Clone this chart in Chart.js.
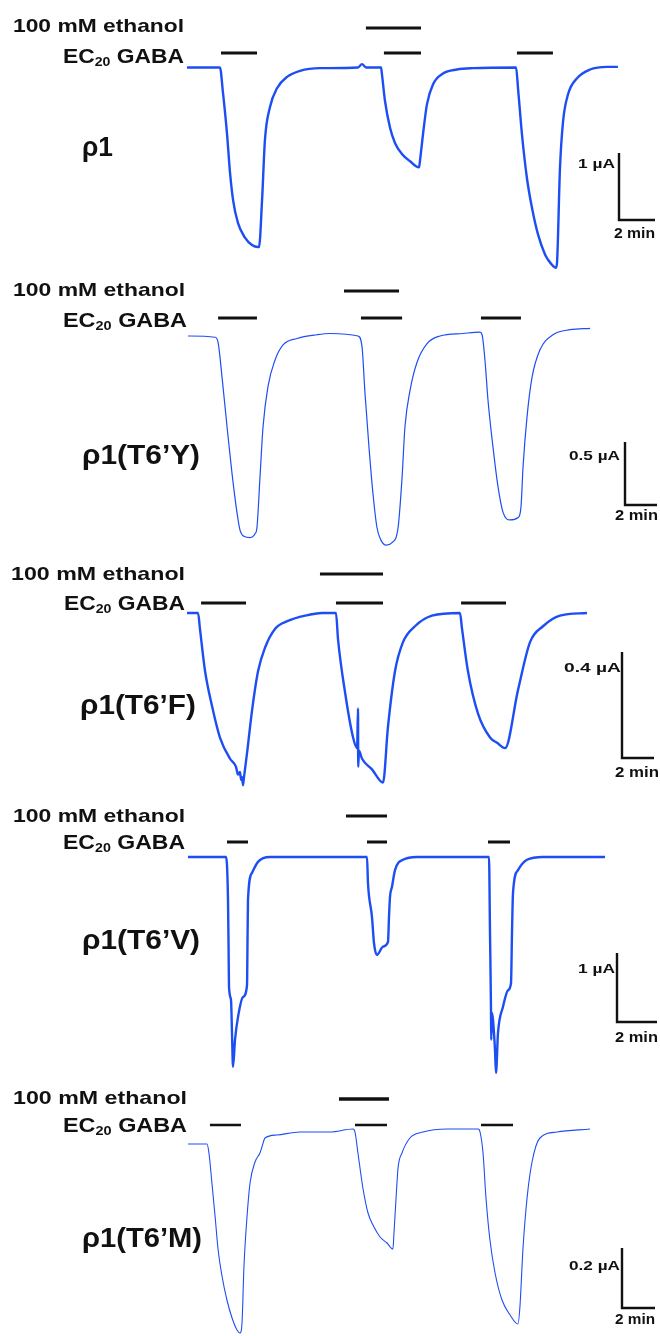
<!DOCTYPE html>
<html>
<head>
<meta charset="utf-8">
<script src="https://cdn.jsdelivr.net/npm/chart.js@4"></script>
<style>
  body { margin: 0; background: #fff; }
  #wrap { position: relative; width: 660px; height: 1336px; overflow: hidden; }
  #c { position: absolute; left: 0; top: 0; }
  .lbl {
    position: absolute; white-space: nowrap; display: inline-block;
    font-family: "Liberation Sans", Arial, Helvetica, sans-serif; font-weight: bold;
    color: #111; line-height: 1; transform-origin: 0 0;
  }
</style>
</head>
<body>
<div id="wrap"><canvas id="c" width="660" height="1336"></canvas></div>
<script>
// 패널 이름, 스케일바
const panelNames = ['ρ1', 'ρ1(T6’Y)', 'ρ1(T6’F)', 'ρ1(T6’V)', 'ρ1(T6’M)'];
const scaleBarUA = [1, 0.5, 0.4, 1, 0.2];
const scaleBarLabels = ['1 µA', '0.5 µA', '0.4 µA', '1 µA', '0.2 µA'];
const scaleBarMin = 2;

// 약물 적용 구간 (min)
const gabaPulses = [
  [[1.89, 3.89], [10.94, 13.0], [18.33, 20.33]],
  [[1.88, 4.31], [10.81, 13.38], [18.31, 20.81]],
  [[0.88, 3.69], [9.31, 12.25], [17.13, 19.94]],
  [[1.95, 3.0], [8.95, 9.95], [15.0, 16.1]],
  [[1.33, 3.21], [10.12, 12.06], [17.76, 19.7]]
];
const ethanolPulses = [[9.94, 13.0], [9.75, 13.19], [8.31, 12.25], [7.9, 9.95], [9.15, 12.18]];

// 전류 트레이스: 시간(min), 전류(µA)
const timeP1 = [0, 1.83, 2.0, 2.22, 2.39, 2.56, 2.83, 3.22, 3.61, 3.94, 4.0, 4.17, 4.33, 4.61, 5.0, 5.56, 6.28, 7.39, 9.5, 9.72,
  9.95, 10.78, 10.83, 11.0, 11.28, 11.56, 11.94, 12.39, 12.89, 12.94, 13.11, 13.33, 13.67, 14.22, 15.0, 15.89, 18.28, 18.39, 18.61, 18.89,
  19.17, 19.5, 19.89, 20.06, 20.33, 20.5, 20.56, 20.72, 20.89, 21.17, 21.67, 22.39, 23.33, 23.94];
const currP1 = [0, 0, -0.38, -0.98, -1.57, -1.98, -2.32, -2.54, -2.65, -2.68, -2.68, -1.98, -1.08, -0.59, -0.31, -0.14, -0.05, -0.01, 0, 0.05,
  0, 0, -0.1, -0.5, -0.9, -1.13, -1.29, -1.4, -1.49, -1.4, -1.0, -0.55, -0.25, -0.09, -0.03, -0.01, 0, -0.31, -1.0, -1.66,
  -2.1, -2.49, -2.79, -2.87, -2.96, -2.99, -2.9, -1.51, -0.81, -0.4, -0.16, -0.03, 0.01, 0.01];

const timeP2 = [0, 1.69, 1.88, 2.13, 2.44, 2.75, 3.06, 3.25, 3.5, 3.88, 4.19, 4.31, 4.5, 4.69, 5.0, 5.44, 5.94, 6.81, 8.06, 8.88,
  10.63, 10.88, 11.06, 11.31, 11.56, 11.81, 12.06, 12.38, 12.75, 13.13, 13.38, 13.56, 13.88, 14.31, 14.94, 15.75, 17.19, 18.25, 18.38, 18.56,
  18.75, 19.06, 19.38, 19.69, 20.13, 20.63, 20.81, 20.94, 21.19, 21.5, 22.0, 22.81, 23.88, 25.13];
const currP2 = [0, -0.01, -0.05, -0.33, -0.72, -1.09, -1.40, -1.54, -1.59, -1.6, -1.57, -1.52, -1.12, -0.72, -0.40, -0.19, -0.07, -0.02, 0.01, 0.02,
  0, -0.09, -0.45, -0.88, -1.25, -1.52, -1.62, -1.66, -1.64, -1.52, -1.12, -0.72, -0.43, -0.21, -0.06, 0, 0.02, 0.03, 0.01, -0.19,
  -0.51, -0.88, -1.2, -1.4, -1.46, -1.44, -1.36, -1.04, -0.64, -0.33, -0.11, 0.01, 0.05, 0.06];

const timeP3 = [0, 0.69, 0.81, 1.13, 1.56, 2.06, 2.69, 3.06, 3.19, 3.31, 3.38, 3.44, 3.5, 3.56, 3.75, 4.06, 4.44, 4.88, 5.5, 6.31,
  7.38, 8.44, 9.31, 9.44, 9.88, 10.38, 10.63, 10.69, 10.7, 10.75, 10.94, 11.56, 12.25, 12.56, 13.0, 13.5, 14.25, 15.31, 17.06, 17.19,
  17.56, 18.19, 18.94, 19.38, 19.88, 20.69, 21.44, 22.25, 23.31, 25.0];
const currP3 = [0, 0, -0.06, -0.22, -0.35, -0.47, -0.55, -0.58, -0.61, -0.60, -0.63, -0.62, -0.65, -0.62, -0.53, -0.37, -0.22, -0.13, -0.06, -0.03,
  -0.01, 0, 0, -0.10, -0.30, -0.47, -0.51, -0.36, -0.58, -0.52, -0.55, -0.59, -0.64, -0.43, -0.22, -0.11, -0.05, -0.01, 0, -0.06,
  -0.22, -0.38, -0.47, -0.49, -0.51, -0.29, -0.11, -0.05, -0.01, 0];

const timeP4 = [0, 1.9, 2.0, 2.03, 2.05, 2.15, 2.2, 2.25, 2.35, 2.5, 2.75, 2.95, 2.98, 3.0, 3.2, 3.5, 4.1, 8.95, 9.0, 9.2,
  9.3, 9.45, 9.75, 10.0, 10.05, 10.1, 10.2, 10.35, 10.75, 11.45, 15.05, 15.1, 15.15, 15.16, 15.2, 15.25, 15.35, 15.4, 15.5, 15.75,
  16.0, 16.15, 16.2, 16.25, 16.5, 16.95, 17.75, 20.85];
const currP4 = [0, 0, -0.62, -1.35, -1.88, -2.07, -2.55, -3.04, -2.65, -2.32, -2.03, -1.86, -1.1, -0.62, -0.23, -0.07, 0, 0, -0.38, -0.87,
  -1.25, -1.42, -1.3, -1.23, -0.87, -0.58, -0.43, -0.19, -0.04, 0, 0, -1.1, -2.22, -2.65, -2.26, -2.36, -2.8, -3.13, -2.55, -2.17,
  -1.93, -1.83, -1.1, -0.52, -0.19, -0.04, 0, 0];

const timeP5 = [0, 1.15, 1.27, 1.45, 1.64, 1.82, 2.06, 2.36, 2.67, 2.97, 3.15, 3.27, 3.39, 3.58, 3.76, 4.06, 4.36, 4.48, 4.67, 5.39,
  6.79, 8.61, 10.0, 10.12, 10.3, 10.61, 10.91, 11.21, 11.64, 12.06, 12.42, 12.48, 12.61, 12.73, 12.97, 13.45, 14.24, 15.7, 17.58, 17.7,
  17.88, 18.06, 18.3, 18.61, 19.03, 19.52, 20.0, 20.12, 20.3, 20.55, 20.85, 21.33, 22.36, 24.36];
const currP5 = [0, 0, -0.03, -0.13, -0.24, -0.35, -0.44, -0.52, -0.58, -0.62, -0.63, -0.6, -0.41, -0.24, -0.13, -0.06, -0.03, -0.01, 0.02, 0.03,
  0.04, 0.04, 0.05, 0.04, -0.03, -0.15, -0.23, -0.27, -0.31, -0.33, -0.35, -0.3, -0.18, -0.08, -0.03, 0.02, 0.04, 0.05, 0.05, 0.04,
  -0.03, -0.18, -0.32, -0.43, -0.52, -0.57, -0.6, -0.54, -0.35, -0.18, -0.06, 0.02, 0.04, 0.05];

const traceTime = [timeP1, timeP2, timeP3, timeP4, timeP5];
const traceCurr = [currP1, currP2, currP3, currP4, currP5];

// 레이아웃 (px): 트레이스 시작점, 축척, 기준선, 막대 높이, 스케일바 모서리
const W = 660, H = 1336;
const panels = [
  { x0: 187, pxMin: 18,   base: 67.5, pxUA: 67,  ethY: 28,   gabaY: 53,   corner: [619, 220],  lw: 2.4 },
  { x0: 188, pxMin: 16,   base: 336,  pxUA: 126, ethY: 291,  gabaY: 318,  corner: [625, 505],  lw: 1.2 },
  { x0: 187, pxMin: 16,   base: 613,  pxUA: 265, ethY: 574,  gabaY: 603,  corner: [622, 758],  lw: 2.4 },
  { x0: 188, pxMin: 20,   base: 857,  pxUA: 69,  ethY: 816,  gabaY: 842,  corner: [617, 1022], lw: 2.4 },
  { x0: 188, pxMin: 16.5, base: 1144, pxUA: 300, ethY: 1099, gabaY: 1125, corner: [622, 1308], lw: 1.1 }
];
// 텍스트 위치: [left, right, baseline]
const textBoxes = [
  { eth: [13, 184, 32],  gaba: [63, 184, 63],  name: [82, 113, 157], sc: [578, 615, 168], min: [614, 655, 238] },
  { eth: [13, 185, 296], gaba: [63, 187, 327], name: [82, 200, 465], sc: [569, 620, 460], min: [615, 658, 520] },
  { eth: [11, 185, 580], gaba: [64, 185, 610], name: [80, 196, 715], sc: [564, 621, 672], min: [615, 659, 777] },
  { eth: [13, 185, 822], gaba: [63, 185, 849], name: [82, 200, 950], sc: [578, 615, 973], min: [615, 658, 1042] },
  { eth: [13, 187, 1104], gaba: [63, 187, 1132], name: [82, 202, 1248], sc: [569, 620, 1270], min: [615, 655, 1324] }
];

const blue = '#1d4ef4';
const scales = {};
const datasets = [];

panels.forEach((p, k) => {
  const xa = 'x' + k, ya = 'y' + k;
  scales[xa] = { type: 'linear', axis: 'x', display: false, min: -p.x0 / p.pxMin, max: (W - p.x0) / p.pxMin };
  scales[ya] = { type: 'linear', axis: 'y', display: false, min: -(H - p.base) / p.pxUA, max: p.base / p.pxUA };
  const toV = (py) => (p.base - py) / p.pxUA;
  const toT = (px) => (px - p.x0) / p.pxMin;

  // 트레이스 (부드러운 곡선)
  datasets.push({
    data: traceTime[k].map((t, i) => ({ x: t, y: traceCurr[k][i] })),
    borderColor: blue, borderWidth: p.lw, borderJoinStyle: 'round',
    cubicInterpolationMode: 'monotone',
    xAxisID: xa, yAxisID: ya
  });

  // GABA 막대
  const gy = toV(p.gabaY);
  const gPts = [];
  gabaPulses[k].forEach(([a, b]) => { gPts.push({ x: a, y: gy }, { x: b, y: gy }, { x: b, y: null }); });
  datasets.push({ data: gPts, borderColor: '#111', borderWidth: k === 4 ? 2.4 : 3, borderCapStyle: 'butt', xAxisID: xa, yAxisID: ya });

  // 에탄올 막대
  const ey = toV(p.ethY);
  datasets.push({
    data: [{ x: ethanolPulses[k][0], y: ey }, { x: ethanolPulses[k][1], y: ey }],
    borderColor: '#111', borderWidth: k === 4 ? 3.6 : 3, borderCapStyle: 'butt', xAxisID: xa, yAxisID: ya
  });

  // 스케일바
  const ct = toT(p.corner[0]), cv = toV(p.corner[1]);
  datasets.push({
    data: [{ x: ct, y: cv + scaleBarUA[k] }, { x: ct, y: cv }, { x: ct + scaleBarMin, y: cv }],
    borderColor: '#111', borderWidth: 2.4, borderJoinStyle: 'miter', borderCapStyle: 'butt', xAxisID: xa, yAxisID: ya
  });
});

datasets.forEach(d => { d.showLine = true; d.pointRadius = 0; d.spanGaps = false; d.fill = false; if (!d.cubicInterpolationMode) d.tension = 0; });

new Chart(document.getElementById('c'), {
  type: 'scatter',
  data: { datasets },
  options: {
    responsive: false,
    animation: false,
    devicePixelRatio: 1,
    events: [],
    layout: { padding: 0 },
    plugins: { legend: { display: false }, tooltip: { enabled: false } },
    scales
  }
});

// 텍스트 라벨
const wrap = document.getElementById('wrap');
function addLabel(html, box, fs) {
  const el = document.createElement('span');
  el.className = 'lbl';
  el.style.fontSize = fs + 'px';
  el.innerHTML = html;
  wrap.appendChild(el);
  const w = el.getBoundingClientRect().width;
  el.style.left = box[0] + 'px';
  el.style.top = (box[2] - 0.8465 * fs) + 'px';
  el.style.transform = 'scaleX(' + ((box[1] - box[0]) / w).toFixed(3) + ')';
}
textBoxes.forEach((b, k) => {
  addLabel('100 mM ethanol', b.eth, 19);
  addLabel('EC<span style="font-size:13px;position:relative;top:3px">20</span> GABA', b.gaba, 21);
  addLabel(panelNames[k], b.name, 27);
  addLabel(scaleBarLabels[k], b.sc, 13);
  addLabel(scaleBarMin + ' min', b.min, 14);
});
</script>
</body>
</html>
